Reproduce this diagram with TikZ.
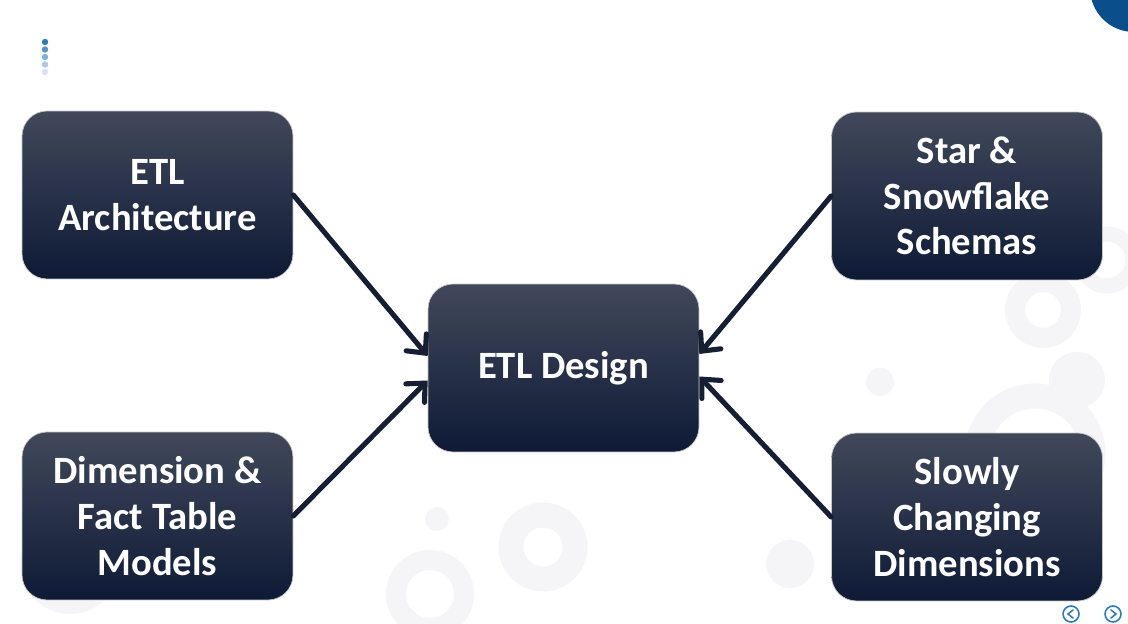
\documentclass[tikz,border=0pt]{standalone}
\usepackage{fontspec}
\setmainfont{Carlito}
\usetikzlibrary{arrows.meta}
\definecolor{boxtop}{HTML}{41485A}
\definecolor{boxmid}{HTML}{18223C}
\definecolor{boxbot}{HTML}{0E1A36}
\definecolor{arrowcol}{HTML}{161E33}
\definecolor{dotblue}{HTML}{2F7BB8}
\definecolor{cornerblue}{HTML}{0A4F8C}
\definecolor{ringgray}{HTML}{F5F5F7}
\begin{document}
\begin{tikzpicture}[x=0.02cm,y=0.02cm,
    topic/.style={rectangle, rounded corners=0.5cm, minimum width=5.42cm, minimum height=3.36cm,
      top color=boxtop, middle color=boxmid, bottom color=boxbot, draw=gray!45, line width=0.4pt,
      text=white, align=center, font=\bfseries\fontsize{22}{26}\selectfont},
    feed/.style={draw=arrowcol, line width=2.9pt, line cap=round,
      -{Straight Barb[length=8pt,width=15pt,line cap=round]}},
    ring/.style={draw=ringgray, line width=#1},
    navicon/.style={draw=dotblue, line width=0.9pt}]
\useasboundingbox (0,0) rectangle (1128,624);
\fill[white] (0,0) rectangle (1128,624);
% faint background rings
\draw[ring=0.5cm] (543,77) circle (32);
\draw[ring=0.4cm] (1043,314) circle (28);
\draw[ring=0.3cm] (1107,364) circle (26);
\draw[ring=0.5cm] (1035,170) circle (58);
\draw[ring=0.4cm] (430,30) circle (34);
\draw[ring=0.4cm] (70,60) circle (40);
\fill[ringgray] (1077,244) circle (28);
\fill[ringgray] (880,242) circle (14);
\fill[ringgray] (437,105) circle (12);
\fill[ringgray] (790,60) circle (24);
% corner mark and dots
\fill[cornerblue] (1134,636) circle (44);
\foreach \i/\op in {0/1,1/0.8,2/0.6,3/0.4,4/0.2}
  \fill[dotblue, opacity=\op] (45,582-7.5*\i) circle (3.2);
% topics
\node[topic] (design) at (563.5,256) {ETL Design};
\node[topic] (arch) at (157.5,429) {ETL\\Architecture};
\node[topic] (facts) at (157.5,108) {Dimension \&\\Fact Table\\Models};
\node[topic] (schemas) at (967,428) {Star \&\\Snowflake\\Schemas};
\node[topic] (scd) at (967,107) {Slowly\\Changing\\Dimensions};
% connectors
\draw[feed] (arch.east) -- ([yshift=0.24cm]design.west);
\draw[feed] (facts.east) -- ([yshift=-0.25cm]design.west);
\draw[feed] (schemas.west) -- ([yshift=0.28cm]design.east);
\draw[feed] (scd.west) -- ([yshift=-0.17cm]design.east);
% slide navigation
\draw[navicon] (1071,10) circle (8);
\draw[navicon, line cap=round] (1073,14) -- (1068,10) -- (1073,6);
\draw[navicon] (1113,10) circle (8);
\draw[navicon, line cap=round] (1111,14) -- (1116,10) -- (1111,6);
\end{tikzpicture}
\end{document}
